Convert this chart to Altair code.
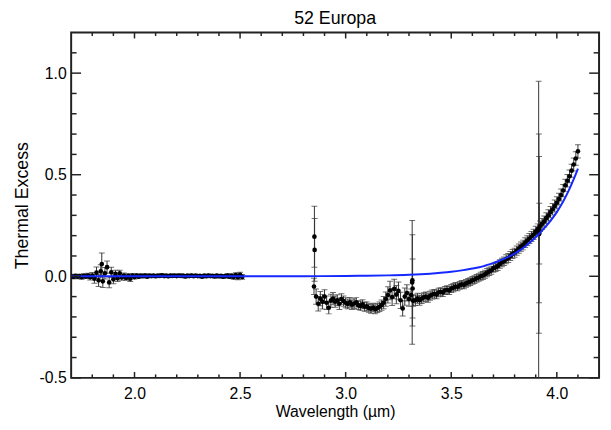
import altair as alt
import pandas as pd

# ---------------- data ----------------
seg1_wl = [1.70, 1.71, 1.72, 1.73, 1.74, 1.75, 1.76, 1.77, 1.78, 1.79,
           1.80, 1.81, 1.82, 1.83, 1.84, 1.85, 1.86, 1.87, 1.88, 1.89,
           1.90, 1.91, 1.92, 1.93, 1.94, 1.95, 1.96, 1.97, 1.98, 1.99,
           2.00, 2.01, 2.02, 2.03, 2.04, 2.05, 2.06, 2.07, 2.08, 2.09,
           2.10, 2.11, 2.12, 2.13, 2.14, 2.15, 2.16, 2.17, 2.18, 2.19,
           2.20, 2.21, 2.22, 2.23, 2.24, 2.25, 2.26, 2.27, 2.28, 2.29,
           2.30, 2.31, 2.32, 2.33, 2.34, 2.35, 2.36, 2.37, 2.38, 2.39,
           2.40, 2.41, 2.42, 2.43, 2.44, 2.45, 2.46, 2.47, 2.48, 2.49,
           2.50, 2.51]
seg1_val = [0.000, -0.003, 0.002, -0.002, 0.001, -0.004, 0.002, -0.001, 0.003, -0.005,
            0.004, -0.012, 0.018, -0.020, 0.025, -0.025, 0.015, 0.045, -0.030, 0.020,
            -0.015, 0.012, -0.010, 0.015, -0.006, 0.004, -0.008, 0.002, -0.012, 0.003,
            -0.004, 0.004, -0.002, 0.003, 0.000, 0.004, -0.002, 0.003, 0.001, 0.004,
            0.000, 0.003, 0.002, 0.005, 0.001, 0.003, 0.000, 0.004, 0.002, 0.003,
            0.001, 0.004, 0.002, 0.003, -0.001, 0.003, 0.001, 0.004, 0.000, 0.003,
            0.001, 0.002, -0.002, 0.003, 0.000, 0.004, 0.001, 0.002, -0.001, 0.003,
            0.000, 0.002, -0.002, 0.001, 0.003, -0.002, 0.002, -0.004, 0.006, -0.005,
            0.007, -0.003]
seg1_err = [0.008, 0.009, 0.008, 0.010, 0.009, 0.010, 0.011, 0.010, 0.012, 0.013,
            0.015, 0.022, 0.028, 0.030, 0.032, 0.030, 0.028, 0.030, 0.026, 0.025,
            0.022, 0.018, 0.016, 0.015, 0.013, 0.012, 0.012, 0.011, 0.014, 0.010,
            0.009, 0.008, 0.008, 0.007, 0.007, 0.008, 0.007, 0.007, 0.007, 0.006,
            0.007, 0.006, 0.006, 0.007, 0.006, 0.006, 0.007, 0.006, 0.006, 0.007,
            0.006, 0.007, 0.006, 0.006, 0.007, 0.006, 0.006, 0.007, 0.006, 0.006,
            0.007, 0.006, 0.007, 0.006, 0.007, 0.007, 0.006, 0.007, 0.008, 0.007,
            0.008, 0.007, 0.008, 0.008, 0.009, 0.009, 0.010, 0.011, 0.012, 0.012,
            0.013, 0.012]

seg2_wl = [2.85, 2.86, 2.87, 2.88, 2.89,
           2.90, 2.91, 2.92, 2.93, 2.94, 2.95, 2.96, 2.97, 2.98, 2.99,
           3.00, 3.01, 3.02, 3.03, 3.04, 3.05, 3.06, 3.07, 3.08, 3.09,
           3.10, 3.11, 3.12, 3.13, 3.14, 3.15, 3.16, 3.17, 3.18, 3.19,
           3.20, 3.21, 3.22, 3.23, 3.24, 3.25, 3.26, 3.27, 3.28, 3.29,
           3.30, 3.31, 3.32, 3.33, 3.34, 3.35, 3.36, 3.37, 3.38, 3.39,
           3.40, 3.41, 3.42, 3.43, 3.44, 3.45, 3.46, 3.47, 3.48, 3.49,
           3.50, 3.51, 3.52, 3.53, 3.54, 3.55, 3.56, 3.57, 3.58, 3.59,
           3.60, 3.61, 3.62, 3.63, 3.64, 3.65, 3.66, 3.67, 3.68, 3.69,
           3.70, 3.71, 3.72, 3.73, 3.74, 3.75, 3.76, 3.77, 3.78, 3.79,
           3.80, 3.81, 3.82, 3.83, 3.84, 3.85, 3.86, 3.87, 3.88, 3.89,
           3.90, 3.91, 3.92, 3.93, 3.94, 3.95, 3.96, 3.97, 3.98, 3.99,
           4.00, 4.01, 4.02, 4.03, 4.04, 4.05, 4.06, 4.07, 4.08, 4.09,
           4.10]
seg2_val = [-0.050, -0.100, -0.135, -0.110, -0.125,
            -0.100, -0.130, -0.155, -0.120, -0.110, -0.125, -0.118, -0.135, -0.112, -0.122,
            -0.130, -0.136, -0.128, -0.140, -0.134, -0.128, -0.142, -0.146, -0.138, -0.150,
            -0.148, -0.156, -0.160, -0.154, -0.162, -0.156, -0.150, -0.142, -0.130, -0.112,
            -0.092, -0.070, -0.102, -0.062, -0.090, -0.072, -0.118, -0.158, -0.100, -0.082,
            -0.112, -0.092, -0.120, -0.118, -0.108, -0.118, -0.110, -0.104, -0.100, -0.106,
            -0.096, -0.090, -0.086, -0.090, -0.080, -0.076, -0.080, -0.070, -0.066, -0.070,
            -0.060, -0.056, -0.050, -0.052, -0.045, -0.040, -0.042, -0.035, -0.030, -0.026,
            -0.020, -0.016, -0.010, -0.006, 0.000, 0.004, 0.010, 0.018, 0.024, 0.030,
            0.040, 0.044, 0.050, 0.060, 0.068, 0.074, 0.084, 0.090, 0.100, 0.110,
            0.116, 0.126, 0.136, 0.146, 0.154, 0.166, 0.176, 0.186, 0.196, 0.206,
            0.220, 0.232, 0.246, 0.258, 0.270, 0.286, 0.300, 0.316, 0.330, 0.346,
            0.362, 0.380, 0.400, 0.422, 0.448, 0.470, 0.492, 0.520, 0.550, 0.580,
            0.615]
seg2_err = [0.040, 0.038, 0.036, 0.035, 0.036,
            0.034, 0.033, 0.030, 0.032, 0.030, 0.028, 0.027, 0.028, 0.026, 0.025,
            0.025, 0.024, 0.024, 0.023, 0.024, 0.023, 0.022, 0.023, 0.022, 0.022,
            0.022, 0.021, 0.022, 0.021, 0.022, 0.022, 0.023, 0.025, 0.030, 0.035,
            0.040, 0.045, 0.042, 0.048, 0.045, 0.044, 0.040, 0.038, 0.042, 0.040,
            0.035, 0.030, 0.028, 0.026, 0.025, 0.024, 0.024, 0.023, 0.023, 0.022,
            0.022, 0.022, 0.021, 0.021, 0.021, 0.020, 0.020, 0.020, 0.020, 0.020,
            0.020, 0.020, 0.019, 0.019, 0.019, 0.019, 0.019, 0.019, 0.019, 0.019,
            0.019, 0.019, 0.019, 0.019, 0.020, 0.020, 0.020, 0.020, 0.020, 0.020,
            0.020, 0.020, 0.021, 0.021, 0.021, 0.021, 0.022, 0.022, 0.022, 0.022,
            0.022, 0.023, 0.023, 0.023, 0.024, 0.024, 0.024, 0.025, 0.025, 0.025,
            0.026, 0.026, 0.026, 0.027, 0.027, 0.027, 0.028, 0.028, 0.028, 0.029,
            0.029, 0.029, 0.030, 0.030, 0.030, 0.031, 0.031, 0.032, 0.032, 0.033,
            0.033]

# points with large uncertainties
big_wl = [1.845, 2.852, 2.853, 3.315, 3.316, 3.317, 3.914, 3.915, 3.916, 3.917]
big_val = [0.060, 0.195, 0.130, -0.030, -0.020, -0.060, 0.210, 0.210, 0.230, 0.210]
big_err = [0.055, 0.150, 0.155, 0.305, 0.225, 0.145, 0.750, 0.490, 0.360, 0.150]

# thermal model curve
model_wl = [1.70, 2.00, 2.50, 2.80, 3.00, 3.10, 3.20, 3.30, 3.40, 3.45, 3.50, 3.55,
            3.60, 3.65, 3.70, 3.75, 3.80, 3.85, 3.90, 3.95, 4.00, 4.03, 4.06, 4.08, 4.10]
model_val = [0.000, 0.000, 0.000, 0.0005, 0.0015, 0.0026, 0.0045, 0.0077, 0.013, 0.017,
             0.022, 0.029, 0.038, 0.049, 0.066, 0.086, 0.112, 0.147, 0.192, 0.248,
             0.316, 0.368, 0.430, 0.478, 0.530]

# axis tick positions (drawn inward, IDL style)
x_major = [2.0, 2.5, 3.0, 3.5, 4.0]
x_minor = [1.8, 1.9, 2.1, 2.2, 2.3, 2.4, 2.6, 2.7, 2.8, 2.9, 3.1, 3.2, 3.3, 3.4,
           3.6, 3.7, 3.8, 3.9, 4.1]
y_major = [-0.5, 0.0, 0.5, 1.0]
y_minor = [-0.4, -0.3, -0.2, -0.1, 0.1, 0.2, 0.3, 0.4, 0.6, 0.7, 0.8, 0.9, 1.1]

chart_title = ["52 Europa"]

# ---------------- chart ----------------
F = "Liberation Sans"
W, H = 535, 350
INK = "#222222"
ERR = "#333333"

df = pd.DataFrame({
    "wl": seg1_wl + seg2_wl + big_wl,
    "v": seg1_val + seg2_val + big_val,
    "e": seg1_err + seg2_err + big_err,
})
model = pd.DataFrame({"wl": model_wl, "v": model_val})

xs = alt.Scale(domain=[1.7, 4.2], nice=False, zero=False)
ys = alt.Scale(domain=[-0.5, 1.2], nice=False, zero=False)

xaxis = alt.Axis(
    title="Wavelength (µm)", values=x_major, format=".1f",
    ticks=False, tickSize=0, domain=False, grid=False,
    labelFont=F, labelFontSize=16, labelColor="black",
    labelBaseline="alphabetic", labelPadding=21,
    titleFont=F, titleFontSize=16, titleFontWeight="normal", titleColor="black",
    titleX=W / 2, titleY=39, titleBaseline="alphabetic", titleAlign="center",
)
yaxis = alt.Axis(
    title="Thermal Excess", values=y_major,
    labelExpr="datum.value < 0 ? '-' + format(-datum.value, '.1f') : format(datum.value, '.1f')",
    ticks=False, tickSize=0, domain=False, grid=False,
    labelFont=F, labelFontSize=16, labelColor="black",
    labelBaseline="middle", labelPadding=5,
    titleFont=F, titleFontSize=18, titleFontWeight="normal", titleColor="black",
    titleAngle=270, titleX=-44, titleY=H / 2, titleBaseline="alphabetic",
    titleAlign="center",
)


def X(field):
    return alt.X(field, scale=xs, axis=xaxis)


def Y(field):
    return alt.Y(field, scale=ys, axis=yaxis)


base = alt.Chart(df).transform_calculate(
    lo="datum.v - datum.e", hi="datum.v + datum.e"
)

bars = base.mark_rule(color=ERR, strokeWidth=1, clip=True).encode(
    x=X("wl:Q"), y=Y("lo:Q"), y2="hi:Q",
)
cap_lo = base.mark_tick(orient="horizontal", size=6, thickness=1,
                        color=ERR, clip=True).encode(
    x=X("wl:Q"), y=Y("lo:Q"),
)
cap_hi = base.mark_tick(orient="horizontal", size=6, thickness=1,
                        color=ERR, clip=True).encode(
    x=X("wl:Q"), y=Y("hi:Q"),
)
pts = base.mark_circle(size=22, color="black", opacity=1, clip=True).encode(
    x=X("wl:Q"), y=Y("v:Q"),
)
line = alt.Chart(model).mark_line(color="#1428ff", strokeWidth=2,
                                  interpolate="monotone", clip=True).encode(
    x=X("wl:Q"), y=Y("v:Q"),
)


def xticks(vals, length):
    d = pd.DataFrame({"wl": vals})
    bot = alt.Chart(d).mark_rule(color=INK, strokeWidth=1.5).encode(
        x=X("wl:Q"), y=alt.value(H), y2=alt.value(H - length))
    top = alt.Chart(d).mark_rule(color=INK, strokeWidth=1.5).encode(
        x=X("wl:Q"), y=alt.value(0), y2=alt.value(length))
    return [bot, top]


def yticks(vals, length):
    d = pd.DataFrame({"v": vals})
    left = alt.Chart(d).mark_rule(color=INK, strokeWidth=1.5).encode(
        y=Y("v:Q"), x=alt.value(0), x2=alt.value(length))
    right = alt.Chart(d).mark_rule(color=INK, strokeWidth=1.5).encode(
        y=Y("v:Q"), x=alt.value(W), x2=alt.value(W - length))
    return [left, right]


tick_layers = (xticks(x_major, 6) + xticks(x_minor, 3.5)
               + yticks(y_major, 10) + yticks(y_minor, 5.5))

title_layer = alt.Chart(pd.DataFrame({"t": chart_title})).mark_text(
    font=F, fontSize=18, color="black", align="center", baseline="alphabetic"
).encode(text="t:N", x=alt.value(W / 2), y=alt.value(-9))

chart = alt.layer(bars, cap_lo, cap_hi, pts, line, *tick_layers, title_layer).properties(
    width=W, height=H,
    background="white",
    autosize=alt.AutoSizeParams(type="none"),
    padding={"left": 64, "top": 22, "right": 4, "bottom": 50},
).configure_view(stroke=INK, strokeWidth=2)

chart.save("out.html", embed_options={"renderer": "svg", "actions": False})
